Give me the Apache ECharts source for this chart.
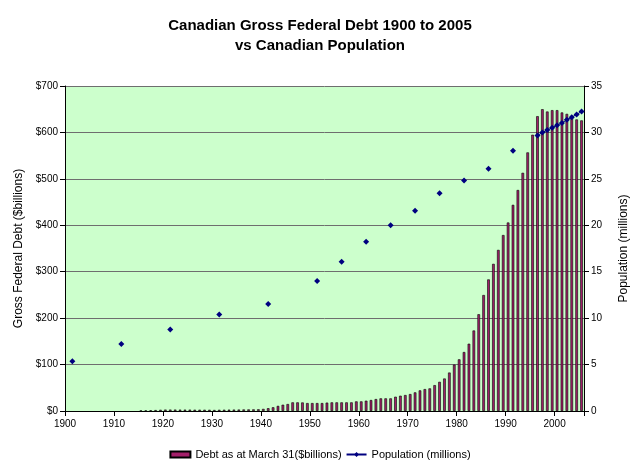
<!DOCTYPE html>
<html>
<head>
<meta charset="utf-8">
<script src="https://cdn.jsdelivr.net/npm/echarts@6/dist/echarts.min.js"></script>
<style>html,body{margin:0;padding:0;background:#fff}#c{width:640px;height:469px}</style>
</head>
<body>
<div id="c"></div>
<script>
// Categories: every year 1900..2005
var years = [];
for (var y = 1900; y <= 2005; y++) years.push(String(y));

// Gross federal debt at March 31 ($ billions), one value per year 1900..2005
var debt = [
  null,null,null,null,null,null,null,null,null,null,
  null,null,null,null,null,1.0,1.3,1.6,2.0,2.6,
  3.0,3.0,3.0,2.9,2.9,2.9,2.8,2.8,2.7,2.6,
  2.2,2.6,2.8,2.9,3.0,3.1,3.3,3.4,3.5,3.7,
  4.5,6.0,8.0,11.0,13.5,15.0,18.6,18.6,18.4,17.1,
  17.1,17.1,17.1,18.0,18.6,18.6,18.6,18.6,18.6,20.7,
  20.7,22.2,23.6,25.7,27.2,27.2,27.2,30.8,32.9,34.4,
  36.5,40.1,44.4,47.2,48.7,55.7,62.8,70.0,82.8,99.9,
  111.3,127.0,144.9,173.4,208.4,249.8,283.4,316.9,347,379,
  406,444,476,513,557,595,635,650,645,648,
  648,643,640,636,628,626
];

// Population (millions) at census / estimate years
var popYears = [1901,1911,1921,1931,1941,1951,1956,1961,1966,1971,1976,1981,1986,1991,1996,1997,1998,1999,2000,2001,2002,2003,2004,2005];
var population = [5.37,7.21,8.79,10.38,11.51,14.01,16.08,18.24,20.01,21.57,23.45,24.82,26.10,28.03,29.67,29.99,30.25,30.50,30.77,31.02,31.36,31.64,31.94,32.25];

// Axis tick labels
var xTickLabels = ['1900','1910','1920','1930','1940','1950','1960','1970','1980','1990','2000'];
var debtTicks = ['$0','$100','$200','$300','$400','$500','$600','$700'];
var popTicks = ['0','5','10','15','20','25','30','35'];

var popSeries = years.map(function (yr) {
  var i = popYears.indexOf(+yr);
  return i >= 0 ? population[i] : null;
});

var FONT = 'Liberation Sans, Arial, sans-serif';
var chart = echarts.init(document.getElementById('c'), null, {renderer: 'canvas'});
chart.setOption({
  animation: false,
  backgroundColor: '#ffffff',
  textStyle: {fontFamily: FONT},
  title: {
    text: 'Canadian Gross Federal Debt 1900 to 2005\nvs Canadian Population',
    left: 'center', top: 11,
    textStyle: {fontFamily: FONT, fontSize: 15, fontWeight: 'bold', color: '#000', lineHeight: 20}
  },
  grid: {left: 65, right: 56, top: 86, bottom: 58, show: true, backgroundColor: '#CCFFCC', borderWidth: 0},
  legend: {
    bottom: 4, left: 'center', itemGap: 4, itemWidth: 20, itemHeight: 6,
    textStyle: {fontFamily: FONT, fontSize: 11, color: '#000'},
    data: [
      {name: 'Debt as at March 31($billions)', icon: 'rect'},
      {name: 'Population (millions)'}
    ]
  },
  xAxis: [
    {type: 'category', data: years, show: false, boundaryGap: true},
    {
      type: 'value', min: 1900, max: 2006, interval: 10, position: 'bottom',
      axisLine: {show: true, lineStyle: {color: '#000', width: 1}},
      axisTick: {show: true, length: 5, lineStyle: {color: '#000'}},
      splitLine: {show: false},
      axisLabel: {
        fontFamily: FONT, fontSize: 10, color: '#000', margin: 8,
        formatter: function (v) { var s = String(v); return xTickLabels.indexOf(s) >= 0 ? s : ''; }
      }
    }
  ],
  yAxis: [
    {
      type: 'value', min: 0, max: 700, interval: 100, position: 'left',
      name: 'Gross Federal Debt ($billions)', nameLocation: 'middle', nameRotate: 90, nameGap: 35,
      nameTextStyle: {fontFamily: FONT, fontSize: 12, color: '#000'},
      axisLine: {show: true, lineStyle: {color: '#000'}},
      axisTick: {show: true, length: 5, lineStyle: {color: '#000'}},
      axisLabel: {fontFamily: FONT, fontSize: 10, color: '#000', margin: 7,
        formatter: function (v) { return debtTicks[Math.round(v / 100)]; }},
      splitLine: {show: true, lineStyle: {color: '#6e6e6e', width: 1}}
    },
    {
      type: 'value', min: 0, max: 35, interval: 5, position: 'right',
      name: 'Population (millions)', nameLocation: 'middle', nameRotate: 90, nameGap: 34,
      nameTextStyle: {fontFamily: FONT, fontSize: 12, color: '#000'},
      axisLine: {show: true, lineStyle: {color: '#000'}},
      axisTick: {show: true, length: 5, lineStyle: {color: '#000'}},
      axisLabel: {fontFamily: FONT, fontSize: 10, color: '#000', margin: 7,
        formatter: function (v) { return popTicks[Math.round(v / 5)]; }},
      splitLine: {show: false}
    }
  ],
  series: [
    {
      name: 'Debt as at March 31($billions)', type: 'bar', xAxisIndex: 0, yAxisIndex: 0,
      data: debt, barWidth: 2.6,
      itemStyle: {color: '#a3206a', borderColor: '#000000', borderWidth: 0.6}
    },
    {
      name: 'Population (millions)', type: 'line', xAxisIndex: 0, yAxisIndex: 1,
      data: popSeries, connectNulls: false, showAllSymbol: true,
      symbol: 'diamond', symbolSize: 6,
      lineStyle: {color: '#000080', width: 1},
      itemStyle: {color: '#000080'}
    }
  ]
});
</script>
</body>
</html>
